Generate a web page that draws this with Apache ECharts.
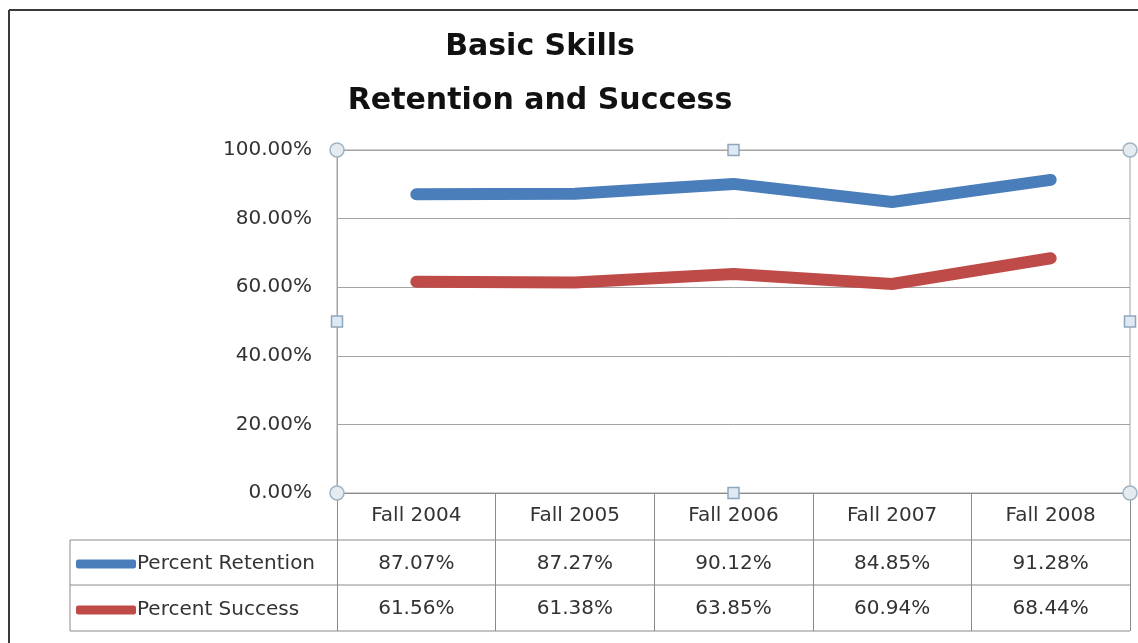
<!DOCTYPE html>
<html>
<head>
<meta charset="utf-8">
<script src="https://cdn.jsdelivr.net/npm/echarts@6/dist/echarts.min.js"></script>
<style>
html,body{margin:0;padding:0;background:#fff;}
#chart{width:1138px;height:643px;}
</style>
</head>
<body>
<div id="chart"></div>
<script>
const titleLines = ['Basic Skills', 'Retention and Success'];
const categories = ['Fall 2004', 'Fall 2005', 'Fall 2006', 'Fall 2007', 'Fall 2008'];
const seriesNames = ['Percent Retention', 'Percent Success'];
const retention = [87.07, 87.27, 90.12, 84.85, 91.28];
const success = [61.56, 61.38, 63.85, 60.94, 68.44];
const yMin = 0, yMax = 100, yStep = 20;

const FONT = 'DejaVu Sans';
const TXT = '#333333';
const TABLE = '#8a8a8a';
const GRIDC = '#a3a3a3';
const BLUE = '#4a7ebb';
const RED = '#be4b48';
const FS = 20;
const fmt = v => v.toFixed(2) + '%';

const chart = echarts.init(document.getElementById('chart'), null, {renderer: 'canvas'});

const labelStyle = {fontFamily: FONT, fontSize: FS, color: TXT};

chart.setOption({
  animation: false,
  backgroundColor: '#fff',
  grid: {left: 337, right: 8, top: 150, bottom: 150, show: true, borderColor: GRIDC, borderWidth: 1, containLabel: false},
  legend: {
    orient: 'vertical', left: 71, top: 548,
    data: seriesNames,
    icon: 'roundRect', itemWidth: 60, itemHeight: 9, itemGap: 24,
    textStyle: {fontFamily: FONT, fontSize: FS, color: TXT, lineHeight: 22, padding: [0, 0, 0, -4]}
  },
  xAxis: {
    type: 'category', data: categories, boundaryGap: true,
    axisLine: {show: true, lineStyle: {color: TABLE, width: 1}},
    axisTick: {show: true, length: 138, lineStyle: {color: TABLE, width: 1}},
    axisLabel: Object.assign({margin: 13}, labelStyle),
    splitLine: {show: false}
  },
  yAxis: {
    type: 'value', min: yMin, max: yMax, interval: yStep,
    axisLine: {show: true, lineStyle: {color: GRIDC}},
    axisTick: {show: false},
    axisLabel: Object.assign({margin: 25, formatter: v => fmt(v)}, labelStyle),
    splitLine: {show: true, lineStyle: {color: GRIDC, width: 1}}
  },
  series: [
    {name: seriesNames[0], type: 'line', data: retention, symbol: 'none', color: BLUE,
     lineStyle: {width: 12, cap: 'round', join: 'round', color: BLUE}},
    {name: seriesNames[1], type: 'line', data: success, symbol: 'none', color: RED,
     lineStyle: {width: 12, cap: 'round', join: 'round', color: RED}}
  ]
});

// decorations: data table, selection handles, frame, title
const xs = categories.map(c => chart.convertToPixel({xAxisIndex: 0}, c));
const half = (xs[1] - xs[0]) / 2;
const left = xs[0] - half;
const right = xs[xs.length - 1] + half;
const yBot = chart.convertToPixel({yAxisIndex: 0}, yMin);
const yTop = chart.convertToPixel({yAxisIndex: 0}, yMax);
const midX = (left + right) / 2, midY = (yBot + yTop) / 2;
const tableLeft = 70;
const rows = [yBot + 47, yBot + 92, yBot + 138];

const g = [];
rows.forEach(y => g.push({type: 'line', shape: {x1: tableLeft, y1: y, x2: right, y2: y}, style: {stroke: TABLE, lineWidth: 1}}));
g.push({type: 'line', shape: {x1: tableLeft, y1: rows[0], x2: tableLeft, y2: rows[2]}, style: {stroke: TABLE, lineWidth: 1}});
// table values
[retention, success].forEach((arr, r) => {
  arr.forEach((v, i) => g.push({type: 'text', x: xs[i], y: (rows[r] + rows[r + 1]) / 2 + 1,
    style: {text: fmt(v), fontFamily: FONT, fontSize: FS, fill: TXT, align: 'center', verticalAlign: 'middle'}}));
});
// frame
g.push({type: 'line', shape: {x1: 9, y1: 10, x2: 1138, y2: 10}, style: {stroke: '#3a3a3a', lineWidth: 2}});
g.push({type: 'line', shape: {x1: 9, y1: 10, x2: 9, y2: 643}, style: {stroke: '#3a3a3a', lineWidth: 2}});
// selection handles
[[left, yTop], [right, yTop], [left, yBot], [right, yBot]].forEach(p =>
  g.push({type: 'circle', z: 100, shape: {cx: p[0], cy: p[1], r: 7}, style: {fill: '#e4ecf2', stroke: '#9fb3c2', lineWidth: 1.5}}));
[[midX, yTop], [midX, yBot], [left, midY], [right, midY]].forEach(p =>
  g.push({type: 'rect', z: 100, shape: {x: p[0] - 5.5, y: p[1] - 5.5, width: 11, height: 11}, style: {fill: '#dfe9f3', stroke: '#8ea6bd', lineWidth: 1.5}}));
// title
titleLines.forEach((t, i) => g.push({type: 'text', x: 540, y: 47 + i * 54, style: {text: t, fontFamily: FONT, fontWeight: 'bold', fontSize: 30, fill: '#111', align: 'center', verticalAlign: 'middle'}}));

chart.setOption({graphic: g});
</script>
</body>
</html>
